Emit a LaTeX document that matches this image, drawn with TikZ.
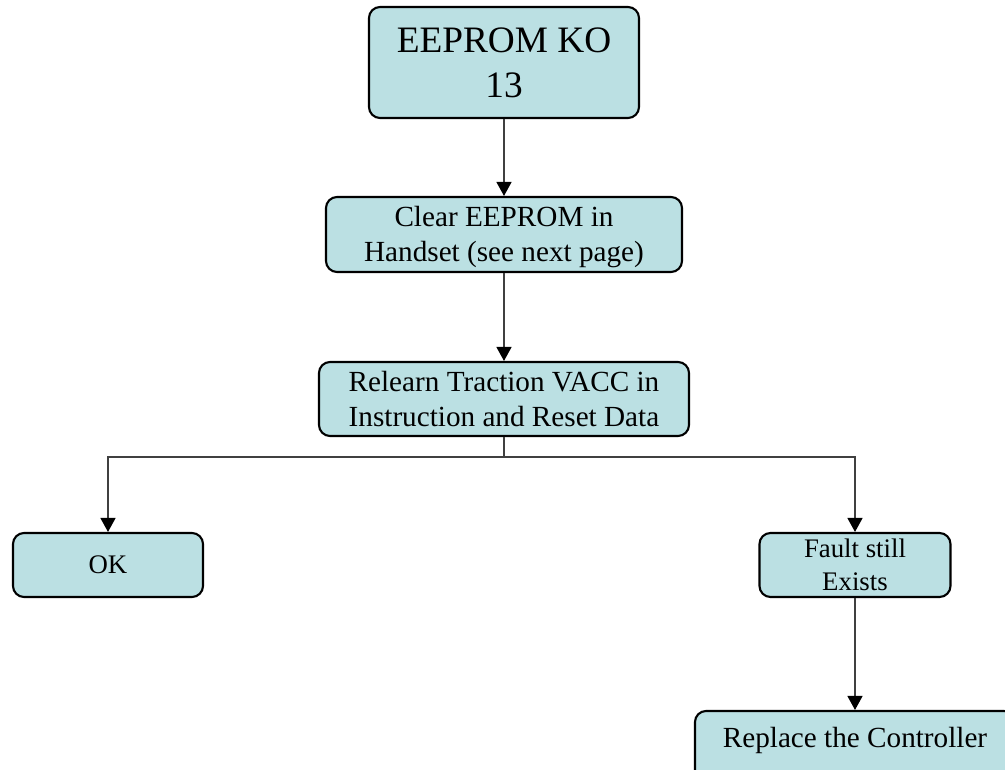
\documentclass[tikz,border=0pt]{standalone}
\usepackage{fontspec}
\setmainfont{Liberation Serif}
\usetikzlibrary{arrows.meta}
\definecolor{boxfill}{RGB}{187,224,227}
\definecolor{linegray}{RGB}{64,64,64}
\tikzset{
  box/.style={draw=black, line width=2.1pt, fill=boxfill, rounded corners=11pt, align=center, inner sep=0pt},
  arr/.style={draw=linegray, line width=1.4pt, -{Triangle[length=14pt,width=15pt,fill=black,color=black]}},
  fbig/.style={font=\fontsize{37.3}{45}\selectfont},
  fmid/.style={font=\fontsize{29.2}{35}\selectfont},
  fsmall/.style={font=\fontsize{26.8}{33}\selectfont}
}
\begin{document}
\begin{tikzpicture}[x=1pt,y={(0,-1pt)}]
\clip (0,0) rectangle (1005,770);
\fill[white] (0,0) rectangle (1005,770);
\node[box, fbig, minimum width=270pt, minimum height=111pt] (top) at (504,62.5) {EEPROM KO\\13};
\node[box, fmid, minimum width=356pt, minimum height=75pt] (clear) at (504,234.5) {\rule{0pt}{26pt}Clear EEPROM in\\Handset (see next page)};
\node[box, fmid, minimum width=370pt, minimum height=74pt] (relearn) at (504,399) {Relearn Traction VACC in\\Instruction and Reset Data};
\node[box, fsmall, minimum width=190pt, minimum height=64pt] (ok) at (108,565) {OK};
\node[box, fsmall, minimum width=191pt, minimum height=64pt] (fault) at (855,565) {Fault still\\Exists};
\node[box, fmid, minimum width=320pt, minimum height=70pt] (replace) at (855,746) {Replace the Controller\rule[-18pt]{0pt}{18pt}};
\coordinate (split) at (504,457);
\draw[arr] (top) -- (clear);
\draw[arr] (clear) -- (relearn);
\draw[arr] (relearn.south) -- (split) -| (ok.north);
\draw[arr] (split) -| (fault.north);
\draw[arr] (fault) -- (replace);
\end{tikzpicture}
\end{document}
